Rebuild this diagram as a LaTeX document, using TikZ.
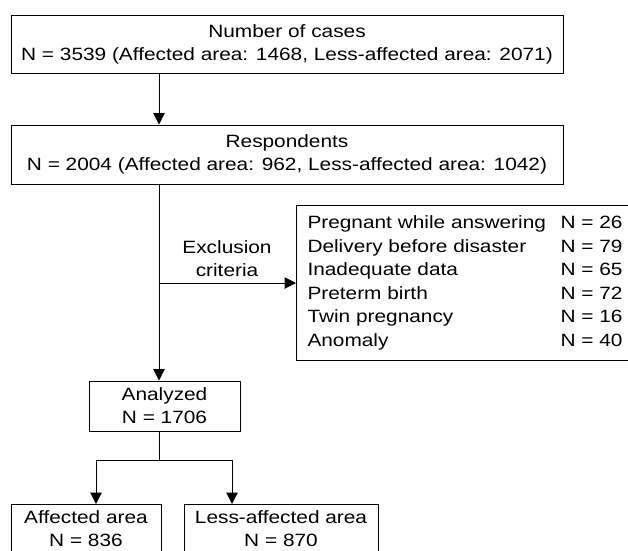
\documentclass[tikz,border=0pt]{standalone}
\usepackage{fontspec}
\setmainfont[FakeStretch=1.17]{Liberation Sans}
\usetikzlibrary{arrows.meta}
\begin{document}
\begin{tikzpicture}[x=1pt,y=-1pt,
  box/.style={draw, line width=1pt, inner sep=0pt, align=center,
    font=\fontsize{17.8}{23}\selectfont},
  conn/.style={line width=1pt},
  arr/.style={line width=1pt, -{Triangle[width=11.5pt,length=11.5pt]}},
  lbl/.style={inner sep=0pt, align=center, font=\fontsize{17.8}{23}\selectfont}]
\useasboundingbox (0,0) rectangle (628,550);
\fill[white] (0,0) rectangle (628,550);
\clip (0,0) rectangle (628,550);
\node[box, minimum width=552pt, minimum height=58pt] (b1) at (287,44.5)
  {Number of cases\\N = 3539 (Affected area: 1468, Less-affected area: 2071)};
\node[box, minimum width=552pt, minimum height=59pt] (b2) at (287,154.5)
  {Respondents\\N = 2004 (Affected area: 962, Less-affected area: 1042)};
\node[box, anchor=north west, inner xsep=11pt, minimum height=155pt] (ex) at (296,205)
  {\fontsize{17.8}{23.5}\selectfont
   \begin{tabular*}{315pt}{@{}l@{\extracolsep{\fill}}r@{}}
   Pregnant while answering & N = 26\\
   Delivery before disaster & N = 79\\
   Inadequate data & N = 65\\
   Preterm birth & N = 72\\
   Twin pregnancy & N = 16\\
   Anomaly & N = 40
   \end{tabular*}};
\node[box, minimum width=151pt, minimum height=50pt] (an) at (164.5,406)
  {Analyzed\\N = 1706};
\node[box, anchor=north, minimum width=150pt, minimum height=48pt] (la) at (86,504)
  {Affected area\\N = 836};
\node[box, anchor=north, minimum width=194pt, minimum height=48pt] (ra) at (281,504)
  {Less-affected area\\N = 870};
\node[lbl] (exl) at (227,258.5) {Exclusion\\criteria};
\coordinate (cx) at (159,0);
\coordinate (jx) at (159,283);
\coordinate (sp) at (159,460);
\coordinate (sl) at (96,460);
\coordinate (sr) at (232,460);
\draw[arr] (b1.south -| cx) -- (b2.north -| cx);
\draw[arr] (b2.south -| cx) -- (an.north -| cx);
\draw[arr] (jx) -- (ex.west |- jx);
\draw[conn] (an.south -| cx) -- (sp);
\draw[conn] (sl) -- (sr);
\draw[arr] (sl) -- (la.north -| sl);
\draw[arr] (sr) -- (ra.north -| sr);
\end{tikzpicture}
\end{document}
